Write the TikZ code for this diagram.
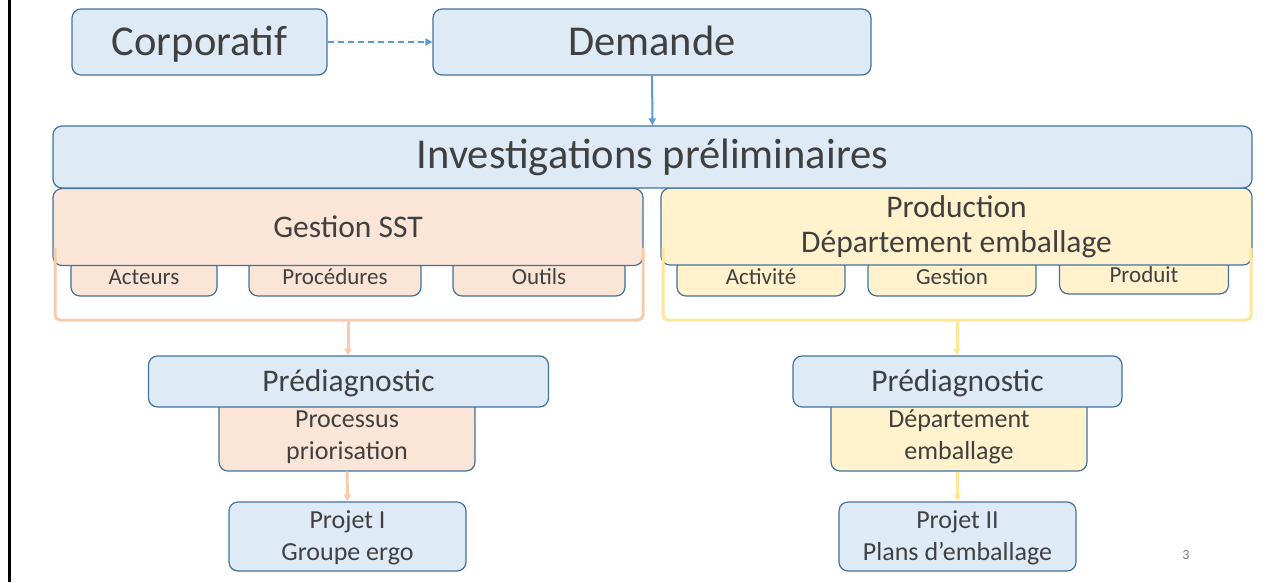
\documentclass[tikz,border=0pt]{standalone}
\usepackage{fontspec}
\setmainfont{Carlito}
\usetikzlibrary{arrows.meta}

\definecolor{boxblue}{HTML}{DEEBF7}
\definecolor{edgeblue}{HTML}{41719C}
\definecolor{boxorange}{HTML}{FBE5D6}
\definecolor{boxyellow}{HTML}{FFF2CC}
\definecolor{linkblue}{HTML}{5B9BD5}
\definecolor{linkorange}{HTML}{F8CBAD}
\definecolor{linkyellow}{HTML}{FFE699}
\definecolor{txtgray}{HTML}{404040}

% lower a label inside its box without changing the box
\newcommand{\lowered}[2]{\raisebox{-#1}[\height][\depth]{\begin{tabular}{@{}c@{}}#2\end{tabular}}}

\tikzset{
  box/.style={draw=edgeblue, line width=1.2pt, rounded corners=9pt, inner sep=0pt,
    align=center, text=txtgray},
  bluebox/.style={box, fill=boxblue},
  orangebox/.style={box, fill=boxorange},
  yellowbox/.style={box, fill=boxyellow},
  huge text/.style={font=\fontsize{42.5}{50}\selectfont},
  big text/.style={font=\fontsize{31.5}{36}\selectfont},
  mid text/.style={font=\fontsize{26}{32}\selectfont},
  small text/.style={font=\fontsize{23}{27}\selectfont},
  tip/.style={-{Triangle[length=7pt,width=7pt]}},
  bracket/.style={line width=3pt, rounded corners=5pt}
}

\begin{document}
\begin{tikzpicture}[x=1pt, y=-1pt]
  \useasboundingbox (0,0) rectangle (1285,582);
  \draw[line width=3pt] (9.5,0) -- (9.5,582);

  % Top row
  \node[bluebox, huge text, text height=27pt, text depth=1pt, minimum width=255pt, minimum height=66pt] (corp) at (199.5,42) {Corporatif};
  \node[bluebox, huge text, text height=27pt, text depth=1pt, minimum width=438pt, minimum height=66pt] (demande) at (652,42) {Demande};
  \draw[tip, linkblue, line width=2pt, dash pattern=on 6pt off 4pt] (corp) -- (demande);

  % Sub-boxes under both branches (drawn first so the big boxes cover their tops)
  \node[orangebox, small text, minimum width=146pt, minimum height=38pt] (acteurs) at (144,277) {Acteurs};
  \node[orangebox, small text, minimum width=172pt, minimum height=38pt] (procedures) at (335,277) {Procédures};
  \node[orangebox, small text, minimum width=172pt, minimum height=38pt] (outils) at (539,277) {Outils};
  \node[yellowbox, small text, minimum width=168pt, minimum height=38pt] (activite) at (761,277) {Activité};
  \node[yellowbox, small text, minimum width=168pt, minimum height=38pt] (gestion) at (952,277) {Gestion};
  \node[yellowbox, small text, minimum width=169pt, minimum height=38pt] (produit) at (1144,275) {Produit};

  % Branch headers
  \node[orangebox, big text, minimum width=590pt, minimum height=77pt] (sst) at (348,227) {Gestion SST};
  \node[yellowbox, big text, minimum width=591pt, minimum height=77pt] (production) at (956.5,226.5)
    {Production\\[-1pt]Département emballage};

  \node[bluebox, huge text, minimum width=1199pt, minimum height=62pt] (invest) at (652.5,157) {Investigations préliminaires};
  \draw[tip, linkblue, line width=2pt] (demande) -- (invest);

  % Brackets grouping each branch
  \draw[bracket, linkorange] (55,248) -- (55,320) -- (643,320) -- (643,248);
  \draw[bracket, linkyellow] (663,248) -- (663,320) -- (1251,320) -- (1251,248);
  \coordinate (sstfoot) at (348,320);
  \coordinate (prodfoot) at (957,320);

  % Lower left
  \node[orangebox, mid text, minimum width=256pt, minimum height=75pt] (processus) at (347,433.5) {\lowered{4pt}{Processus\\priorisation}};
  \node[bluebox, big text, minimum width=400pt, minimum height=51pt] (prediagA) at (348.5,381.5) {\lowered{2.5pt}{Prédiagnostic}};
  \node[bluebox, mid text, minimum width=237pt, minimum height=69pt] (projetA) at (347.5,536.5) {\lowered{2pt}{Projet I\\Groupe ergo}};
  \draw[tip, linkorange, line width=3pt] (sstfoot) -- (sstfoot |- prediagA.north);
  \draw[tip, linkorange, line width=3pt] (processus) -- (projetA);

  % Lower right
  \node[yellowbox, mid text, minimum width=256pt, minimum height=75pt] (departement) at (959,433.5) {\lowered{4pt}{Département\\emballage}};
  \node[bluebox, big text, minimum width=329pt, minimum height=51pt] (prediagB) at (957.5,381.5) {\lowered{2.5pt}{Prédiagnostic}};
  \node[bluebox, mid text, minimum width=237pt, minimum height=69pt] (projetB) at (957.5,536.5) {\lowered{2pt}{Projet II\\Plans d’emballage}};
  \draw[tip, linkyellow, line width=3pt] (prodfoot) -- (prodfoot |- prediagB.north);
  \draw[tip, linkyellow, line width=3pt] (departement.south -| projetB) -- (projetB);

  \node[text=gray, font=\fontsize{14}{16}\selectfont] (pagenum) at (1186,555) {3};
\end{tikzpicture}
\end{document}
